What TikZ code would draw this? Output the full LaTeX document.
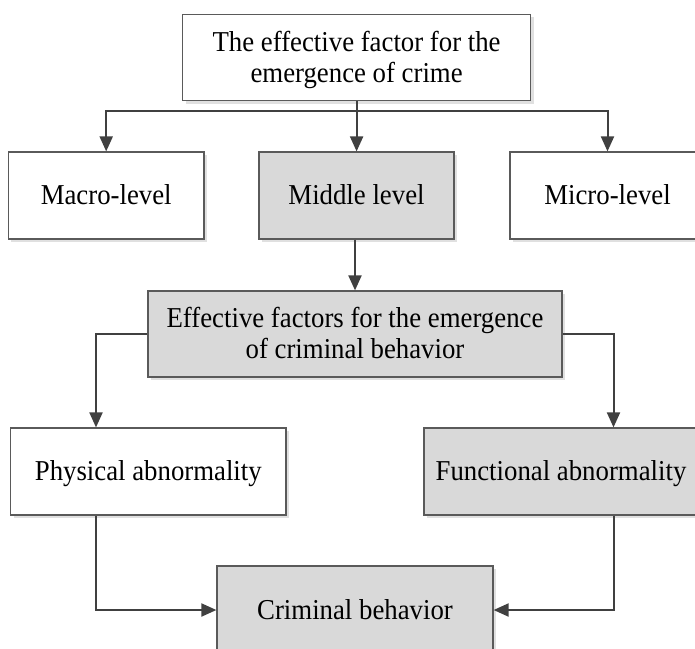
\documentclass[tikz,border=0pt]{standalone}
\usepackage{fontspec}
\setmainfont{Liberation Serif}
\usetikzlibrary{arrows.meta,shadows}
\definecolor{boxgray}{HTML}{D9D9D9}
\definecolor{linegray}{HTML}{404040}
\definecolor{edgegray}{HTML}{5A5A5A}
\newcommand{\sqtext}[1]{\raisebox{-3pt}[\height][\depth]{\scalebox{0.93}[1]{\begin{tabular}{@{}c@{}}#1\end{tabular}}}}
\begin{document}
\begin{tikzpicture}[x=1pt,y=-1pt,
  box/.style={draw=edgegray,line width=1.2pt,fill=white,align=center,inner sep=0pt,
    font=\fontsize{28.8}{31}\selectfont,
    drop shadow={shadow xshift=3pt,shadow yshift=-3pt,fill=black!12,opacity=1}},
  graybox/.style={box,fill=boxgray},
  conn/.style={draw=linegray,line width=2pt},
  arr/.style={conn,-{Triangle[length=15pt,width=13pt]}}]
\useasboundingbox (0,0) rectangle (695,648);
\clip (0,0) rectangle (695,648);
\node[box,minimum width=348pt,minimum height=86.4pt] (top) at (356.6,57.5)
  {\sqtext{The effective factor for the\\emergence of crime}};
\node[box,minimum width=195.5pt,minimum height=87pt] (macro) at (106.2,195.5) {\sqtext{Macro-level}};
\node[graybox,minimum width=195pt,minimum height=87pt] (middle) at (356.5,195.5) {\sqtext{Middle level}};
\node[box,minimum width=195pt,minimum height=87pt] (micro) at (607.5,195.5) {\sqtext{Micro-level}};
\node[graybox,minimum width=414pt,minimum height=86pt] (eff) at (355,334)
  {\sqtext{Effective factors for the emergence\\of criminal behavior}};
\node[box,minimum width=275.4pt,minimum height=87pt] (phys) at (148.3,471.5) {\sqtext{Physical abnormality}};
\node[graybox,minimum width=274pt,minimum height=87pt] (func) at (561,471.5) {\sqtext{Functional abnormality}};
\node[graybox,minimum width=276pt,minimum height=88pt] (crim) at (355,610) {\sqtext{Criminal behavior}};
\coordinate (j) at (356.6,111);
\coordinate (lx) at (96,0);
\coordinate (rx) at (613.5,0);
\draw[conn] (top.south) -- (j);
\draw[arr] (j) -| (macro.north);
\draw[arr] (j) -- (j |- middle.north);
\draw[arr] (j) -| (micro.north);
\draw[arr] (middle.south -| eff.north) -- (eff.north);
\draw[arr] (eff.west) -| (lx |- phys.north);
\draw[arr] (eff.east) -| (rx |- func.north);
\draw[arr] (lx |- phys.south) |- (crim.west);
\draw[arr] (rx |- func.south) |- (crim.east);
\end{tikzpicture}
\end{document}
